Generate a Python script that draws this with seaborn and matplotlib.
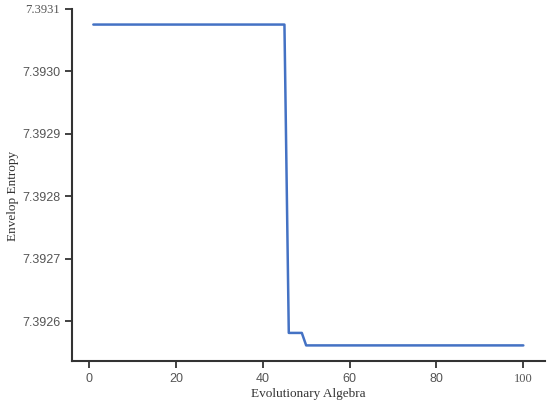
import numpy as np
import pandas as pd
import matplotlib
matplotlib.use("Agg")
import matplotlib.pyplot as plt
import seaborn as sns

# ── Data ─────────────────────────────────────────────────────
generations = list(range(1, 101))
entropy = [7.393075] * 45 + [7.392581] * 4 + [7.392561] * 51
y_ticks = [7.3926, 7.3927, 7.3928, 7.3929, 7.3930, 7.3931]
x_ticks = [0, 20, 40, 60, 80, 100]

df = pd.DataFrame({"Generation": generations, "Entropy": entropy})

# ── Plot ─────────────────────────────────────────────────────
sns.set_style("ticks")
plt.rcParams["font.family"] = ["Liberation Sans", "DejaVu Sans"]

fig = plt.figure(figsize=(5.5, 4.07), dpi=100)
ax = fig.add_axes([0.131, 0.113, 0.86, 0.865])

sns.lineplot(data=df, x="Generation", y="Entropy", ax=ax,
             color="#4472C4", linewidth=1.8)

ax.set_xlim(-3.9, 105)
ax.set_ylim(7.392536, 7.3931)
ax.set_xticks(x_ticks)
ax.set_yticks(y_ticks)
ax.set_yticklabels([f"{v:.4f}" for v in y_ticks])

for side in ["top", "right"]:
    ax.spines[side].set_visible(False)
for side in ["left", "bottom"]:
    ax.spines[side].set_color("#333333")
    ax.spines[side].set_linewidth(1.5)

ax.tick_params(axis="both", direction="out", length=5, width=1.3,
               color="#333333", labelsize=9, labelcolor="#555555")

# mixed fonts as in the original figure
serif = ["Liberation Serif", "DejaVu Serif"]
ax.get_yticklabels()[-1].set_family(serif)
ax.get_xticklabels()[-1].set_family(serif)

ax.set_xlabel("Evolutionary Algebra", family=serif, fontsize=9.5,
              color="#333333")
ax.set_ylabel("Envelop Entropy", family=serif, fontsize=9.5,
              color="#333333")
ax.xaxis.set_label_coords(0.5, -0.078)
ax.yaxis.set_label_coords(-0.112, 0.47)

fig.savefig("out.png", dpi=100)
